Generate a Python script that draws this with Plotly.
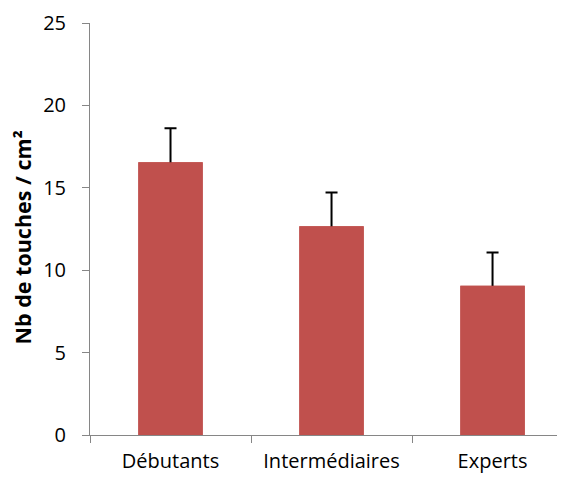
import plotly.graph_objects as go

categories = ["Débutants", "Intermédiaires", "Experts"]
means = [16.55, 12.67, 9.05]
errors_up = [2.06, 2.05, 2.02]
y_ticks = [0, 5, 10, 15, 20, 25]

BAR_COLOR = "#C0504D"
AXIS_COLOR = "#868686"
FONT = "Open Sans"

fig = go.Figure()
# Error bar trace (drawn first, symmetric, lower half hidden by next trace)
fig.add_trace(go.Bar(
    x=categories, y=means, width=0.4,
    marker=dict(color=BAR_COLOR, line=dict(width=0)),
    error_y=dict(type="data", array=errors_up, symmetric=True,
                 color="black", thickness=2, width=6),
    showlegend=False, hoverinfo="skip",
))
# Bars on top
fig.add_trace(go.Bar(
    x=categories, y=means, width=0.4,
    marker=dict(color=BAR_COLOR, line=dict(width=0)),
    showlegend=False,
))

# The page body has an 8px default margin, so the figure is 8px smaller.
fig.update_layout(
    width=557, height=469,
    margin=dict(l=82, r=0, t=15, b=42),
    paper_bgcolor="white", plot_bgcolor="white",
    barmode="overlay",
    font=dict(family=FONT, size=20, color="black"),
    xaxis=dict(
        type="category", range=[-0.5, 2.45],
        showline=True, linecolor=AXIS_COLOR, linewidth=1,
        ticks="outside", tickson="boundaries", ticklen=7,
        tickcolor=AXIS_COLOR, showgrid=False, zeroline=False,
        ticklabelstandoff=8,
        tickfont=dict(family=FONT, size=20, color="black"),
    ),
    yaxis=dict(
        range=[0, 25], tickvals=y_ticks,
        showline=True, linecolor=AXIS_COLOR, linewidth=1,
        ticks="outside", ticklen=7, tickcolor=AXIS_COLOR,
        showgrid=False, zeroline=False,
        ticklabelstandoff=12,
        tickfont=dict(family=FONT, size=20, color="black"),
    ),
    annotations=[dict(
        text="<b>Nb de touches / cm²</b>",
        textangle=-90, showarrow=False,
        xref="paper", yref="paper",
        x=(22 - 90) / 475, y=(435 - 237.5) / 412,
        xanchor="center", yanchor="middle",
        font=dict(family=FONT, size=21.5, color="black"),
    )],
)

fig.write_html("out.html")
